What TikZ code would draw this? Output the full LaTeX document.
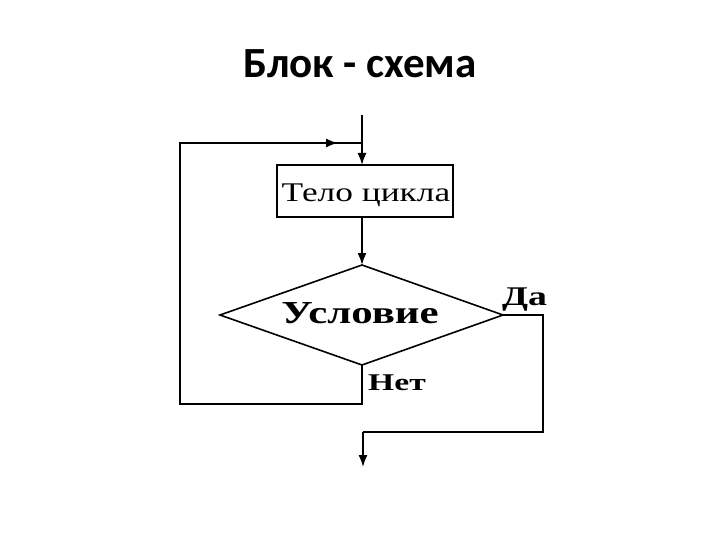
\documentclass[tikz,border=0pt]{standalone}
\usepackage{fontspec}
\setmainfont{Liberation Serif}
\newfontfamily\titlefont{Carlito}
\usetikzlibrary{arrows.meta,shapes.geometric}
\newcommand{\widetext}[2]{\scalebox{#1}[1]{#2}}
\begin{document}
\begin{tikzpicture}[x=1pt,y=-1pt,
  line/.style={line width=1.6pt},
  arr/.style={line, -{Latex[length=12pt,width=9pt]}},
  txt/.style={inner sep=0pt, anchor=base}]
\useasboundingbox (0,0) rectangle (720,540);
\node[txt, font=\titlefont\bfseries\fontsize{43}{46}\selectfont] (title) at (360,78) {Блок - схема};
% body box
\node[draw, line, minimum width=176pt, minimum height=52pt, inner sep=0pt] (body) at (365,191) {};
\node[txt, font=\fontsize{27}{29}\selectfont] (bodytext) at (366,202) {\widetext{1.31}{Тело цикла}};
% diamond
\coordinate (dt) at (362,265);
\coordinate (db) at (362,365);
\coordinate (dl) at (220,315);
\coordinate (dr) at (503,315);
\draw[line] (dt) -- (dr) -- (db) -- (dl) -- cycle;
\node[txt, font=\bfseries\fontsize{32}{34}\selectfont] (cond) at (360,323) {\widetext{1.34}{Условие}};
% top entry
\coordinate (start) at (362,115);
\coordinate (join) at (362,143);
\coordinate (btop) at (362,165);
\draw[line] (start) -- (join);
\draw[arr] (join) -- (btop);
% body to diamond
\coordinate (bbot) at (362,217);
\draw[arr] (bbot) -- (dt);
% loop back (No)
\coordinate (n1) at (362,404);
\coordinate (n2) at (180,404);
\coordinate (n3) at (180,143);
\coordinate (n4) at (338,143);
\draw[line] (db) -- (n1) -- (n2) -- (n3) -- (join);
\draw[arr] (n3) -- (n4);
% exit (Yes)
\coordinate (y1) at (543,315);
\coordinate (y2) at (543,432);
\coordinate (y3) at (363,432);
\coordinate (y4) at (363,467);
\draw[line] (dr) -- (y1) -- (y2) -- (y3);
\draw[arr] (y3) -- (y4);
% labels
\node[txt, anchor=base west, font=\bfseries\fontsize{27}{29}\selectfont] (da) at (502,305) {\widetext{1.4}{Да}};
\node[txt, anchor=base west, font=\bfseries\fontsize{24}{26}\selectfont] (net) at (368,390) {\widetext{1.4}{Нет}};
\end{tikzpicture}
\end{document}
